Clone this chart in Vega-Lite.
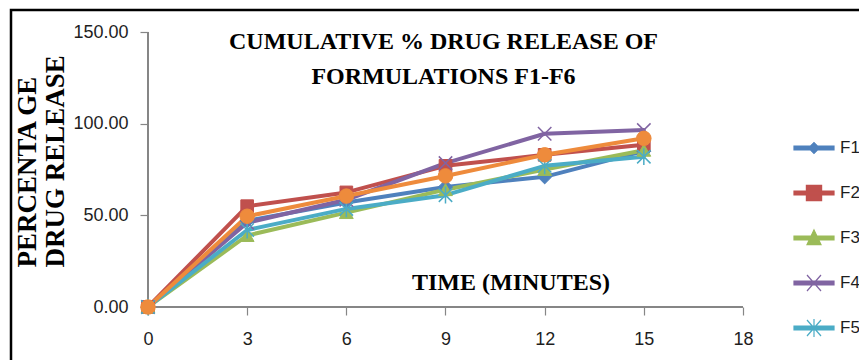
{
  "$schema": "https://vega.github.io/schema/vega-lite/v6.json",
  "autosize": "none",
  "width": 851,
  "height": 353,
  "padding": {"left": 11, "top": 10, "right": -3, "bottom": -3},
  "background": "white",
  "config": {
    "view": {"stroke": "black", "strokeWidth": 2.5, "fill": "white"},
    "font": "Liberation Sans"
  },
  "title": {
    "text": ["CUMULATIVE % DRUG RELEASE OF", "FORMULATIONS F1-F6"],
    "font": "Liberation Serif",
    "fontSize": 24,
    "fontWeight": "bold",
    "color": "black",
    "lineHeight": 35,
    "anchor": "middle",
    "frame": "group",
    "offset": -79,
    "dx": 7
  },
  "data": {
    "values": [
      {"series": "F1", "time": 0, "release": 0},
      {"series": "F1", "time": 3, "release": 47},
      {"series": "F1", "time": 6, "release": 57},
      {"series": "F1", "time": 9, "release": 65.5},
      {"series": "F1", "time": 12, "release": 71},
      {"series": "F1", "time": 15, "release": 85},
      {"series": "F2", "time": 0, "release": 0},
      {"series": "F2", "time": 3, "release": 55},
      {"series": "F2", "time": 6, "release": 62.5},
      {"series": "F2", "time": 9, "release": 77},
      {"series": "F2", "time": 12, "release": 83},
      {"series": "F2", "time": 15, "release": 88.5},
      {"series": "F3", "time": 0, "release": 0},
      {"series": "F3", "time": 3, "release": 39},
      {"series": "F3", "time": 6, "release": 51.5},
      {"series": "F3", "time": 9, "release": 64},
      {"series": "F3", "time": 12, "release": 75},
      {"series": "F3", "time": 15, "release": 85.5},
      {"series": "F4", "time": 0, "release": 0},
      {"series": "F4", "time": 3, "release": 46},
      {"series": "F4", "time": 6, "release": 58.5},
      {"series": "F4", "time": 9, "release": 78.5},
      {"series": "F4", "time": 12, "release": 94.5},
      {"series": "F4", "time": 15, "release": 96.5},
      {"series": "F5", "time": 0, "release": 0},
      {"series": "F5", "time": 3, "release": 42},
      {"series": "F5", "time": 6, "release": 53.5},
      {"series": "F5", "time": 9, "release": 61},
      {"series": "F5", "time": 12, "release": 77},
      {"series": "F5", "time": 15, "release": 82},
      {"series": "F6", "time": 0, "release": 0},
      {"series": "F6", "time": 3, "release": 49.5},
      {"series": "F6", "time": 6, "release": 60.5},
      {"series": "F6", "time": 9, "release": 71.5},
      {"series": "F6", "time": 12, "release": 83},
      {"series": "F6", "time": 15, "release": 92}
    ]
  },
  "encoding": {
    "x": {
      "field": "time",
      "type": "quantitative",
      "scale": {"domain": [-4.1445, 21.6], "nice": false, "zero": false},
      "axis": {
        "values": [0, 3, 6, 9, 12, 15, 18],
        "format": "d",
        "offset": -56,
        "domain": false,
        "grid": false,
        "ticks": true,
        "tickSize": 8,
        "tickColor": "#868686",
        "tickWidth": 1.2,
        "labelFont": "Liberation Sans",
        "labelFontSize": 18,
        "labelColor": "#1e1e1e",
        "labelPadding": 15,
        "labelFlush": false,
        "labelOverlap": false,
        "title": "TIME  (MINUTES)",
        "titleFont": "Liberation Serif",
        "titleFontSize": 24,
        "titleFontWeight": "bold",
        "titleColor": "black",
        "titleX": 499.5,
        "titleY": -18,
        "titleAlign": "center",
        "titleBaseline": "alphabetic"
      }
    },
    "y": {
      "field": "release",
      "type": "quantitative",
      "scale": {"domain": [-30.545, 162.0], "nice": false, "zero": false},
      "axis": {
        "values": [0, 50, 100, 150],
        "format": ".2f",
        "offset": -137,
        "domain": false,
        "grid": false,
        "tickSize": 8,
        "tickColor": "#868686",
        "tickWidth": 1.2,
        "labelFont": "Liberation Sans",
        "labelFontSize": 18,
        "labelColor": "#1e1e1e",
        "labelPadding": 12,
        "labelFlush": false,
        "labelOverlap": false,
        "title": ["PERCENTA GE", "DRUG RELEASE"],
        "titleFont": "Liberation Serif",
        "titleFontSize": 27,
        "titleFontWeight": "bold",
        "titleColor": "black",
        "titleAngle": -90,
        "titleAlign": "left",
        "titleBaseline": "alphabetic",
        "titleLineHeight": 28,
        "titleX": -113,
        "titleY": 257
      }
    }
  },
  "layer": [
    {
      "mark": {"type": "rule", "color": "#868686", "strokeWidth": 1.2},
      "encoding": {
        "x": {"datum": 0, "type": "quantitative"},
        "x2": {"datum": 18},
        "y": {"datum": 0, "type": "quantitative"}
      }
    },
    {
      "mark": {"type": "rule", "color": "#868686", "strokeWidth": 1.2},
      "encoding": {
        "x": {"datum": 0, "type": "quantitative"},
        "y": {"datum": 0, "type": "quantitative"},
        "y2": {"datum": 150}
      }
    },
    {
      "mark": {"type": "line", "strokeWidth": 4, "strokeJoin": "round", "strokeCap": "round"},
      "encoding": {
        "color": {
          "field": "series",
          "type": "nominal",
          "scale": {
            "domain": ["F1", "F2", "F3", "F4", "F5", "F6"],
            "range": ["#4F81BD", "#C0504D", "#9BBB59", "#8064A2", "#4BACC6", "#EE8B3C"]
          },
          "legend": {
            "orient": "none",
            "legendX": 782,
            "legendY": 117,
            "direction": "vertical",
            "title": null,
            "padding": 0,
            "symbolSize": 1600,
            "gridAlign": "all",
            "rowPadding": 12,
            "labelOffset": 5,
            "labelFont": "Liberation Sans",
            "labelFontSize": 17,
            "labelColor": "#1e1e1e",
            "encode": {
              "symbols": {
                "update": {
                  "shape": {"signal": "'M-1,-0.1L1,-0.1L1,0.1L-1,0.1Z' + (datum.value === 'F1' ? 'M-0.27,0L0,-0.27L0.27,0L0,0.27Z' : datum.value === 'F2' ? 'M-0.38,-0.38L0.38,-0.38L0.38,0.38L-0.38,0.38Z' : datum.value === 'F3' ? 'M0,-0.4L0.35,0.33L-0.35,0.33Z' : datum.value === 'F4' ? 'M-0.35,-0.4L0.35,0.4M0.35,-0.4L-0.35,0.4' : datum.value === 'F5' ? 'M-0.35,-0.4L0.35,0.4M0.35,-0.4L-0.35,0.4M0,-0.45L0,0.45' : 'M-0.35,0A0.35,0.35 0 1,0 0.35,0A0.35,0.35 0 1,0 -0.35,0Z')"},
                  "fill": {"signal": "scale('color', datum.value)"},
                  "stroke": {"signal": "scale('color', datum.value)"},
                  "strokeWidth": {"value": 1.2},
                  "strokeDash": {"value": []},
                  "size": {"value": 1600},
                  "opacity": {"value": 1}
                }
              }
            }
          }
        }
      }
    },
    {
      "transform": [{"filter": "datum.series === 'F1'"}],
      "mark": {"type": "point", "shape": "diamond", "filled": true, "size": 200, "fill": "#4F81BD", "stroke": "#4F81BD", "strokeWidth": 1, "opacity": 1}
    },
    {
      "transform": [{"filter": "datum.series === 'F2'"}],
      "mark": {"type": "point", "shape": "square", "filled": true, "size": 160, "fill": "#C0504D", "stroke": "#C0504D", "strokeWidth": 1, "opacity": 1}
    },
    {
      "transform": [{"filter": "datum.series === 'F3'"}],
      "mark": {"type": "point", "shape": "triangle-up", "filled": true, "size": 190, "fill": "#9BBB59", "stroke": "#9BBB59", "strokeWidth": 1, "opacity": 1}
    },
    {
      "transform": [{"filter": "datum.series === 'F4'"}],
      "mark": {"type": "point", "shape": "M-1,-1L1,1M1,-1L-1,1", "filled": false, "size": 180, "stroke": "#8064A2", "strokeWidth": 1.5, "opacity": 1}
    },
    {
      "transform": [{"filter": "datum.series === 'F5'"}],
      "mark": {"type": "point", "shape": "M-1,-1L1,1M1,-1L-1,1M0,-1.25L0,1.25", "filled": false, "size": 180, "stroke": "#4BACC6", "strokeWidth": 1.5, "opacity": 1}
    },
    {
      "transform": [{"filter": "datum.series === 'F6'"}],
      "mark": {"type": "point", "shape": "circle", "filled": true, "size": 210, "fill": "#EE8B3C", "stroke": "#EE8B3C", "strokeWidth": 1, "opacity": 1}
    }
  ]
}
